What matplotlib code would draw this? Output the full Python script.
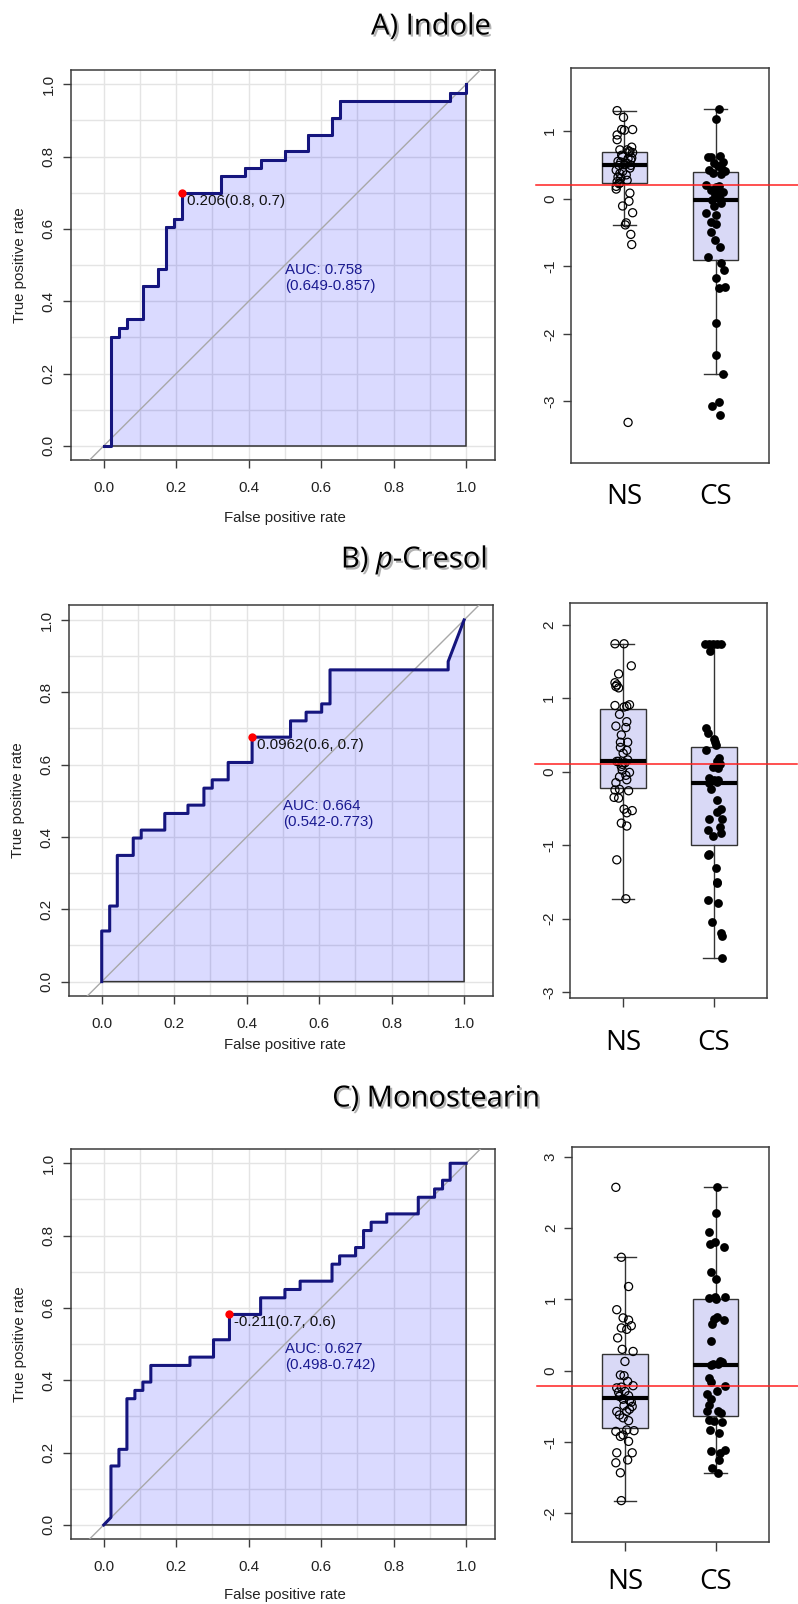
import numpy as np
import matplotlib
matplotlib.use('Agg')
import matplotlib.pyplot as plt
import matplotlib.patheffects as pe

plt.rcParams['font.family'] = ['Liberation Sans', 'DejaVu Sans']
plt.rcParams['mathtext.fontset'] = 'custom'
plt.rcParams['mathtext.rm'] = 'Open Sans'
plt.rcParams['mathtext.it'] = 'Open Sans:italic'

# ---- ROC curves (false positive rate, true positive rate vertices) ----
A_fpr = [0.000, 0.020, 0.020, 0.042, 0.042, 0.064, 0.064, 0.108, 0.108, 0.150, 0.150, 0.172,
         0.172, 0.194, 0.194, 0.216, 0.216, 0.325, 0.325, 0.391, 0.391, 0.433, 0.433, 0.500,
         0.500, 0.564, 0.564, 0.630, 0.630, 0.651, 0.651, 0.956, 0.956, 1.000, 1.000]
A_tpr = [0.000, 0.000, 0.302, 0.302, 0.326, 0.326, 0.350, 0.350, 0.441, 0.441, 0.488, 0.488,
         0.604, 0.604, 0.628, 0.628, 0.698, 0.698, 0.745, 0.745, 0.769, 0.769, 0.791, 0.791,
         0.815, 0.815, 0.860, 0.860, 0.906, 0.906, 0.953, 0.953, 0.977, 0.977, 1.000]

B_fpr = [0.000, 0.000, 0.022, 0.022, 0.043, 0.043, 0.087, 0.087, 0.109, 0.109, 0.174, 0.174,
         0.238, 0.238, 0.282, 0.282, 0.305, 0.305, 0.349, 0.349, 0.415, 0.415, 0.521, 0.521,
         0.564, 0.564, 0.607, 0.607, 0.630, 0.630, 0.956, 0.956, 1.000]
B_tpr = [0.000, 0.140, 0.140, 0.209, 0.209, 0.349, 0.349, 0.397, 0.397, 0.419, 0.419, 0.465,
         0.465, 0.488, 0.488, 0.535, 0.535, 0.558, 0.558, 0.606, 0.606, 0.676, 0.676, 0.721,
         0.721, 0.745, 0.745, 0.768, 0.768, 0.862, 0.862, 0.885, 1.000]

C_fpr = [0.000, 0.020, 0.020, 0.042, 0.042, 0.064, 0.064, 0.086, 0.086, 0.108, 0.108, 0.130,
         0.130, 0.238, 0.238, 0.303, 0.303, 0.347, 0.347, 0.433, 0.433, 0.500, 0.500, 0.542,
         0.542, 0.630, 0.630, 0.651, 0.651, 0.695, 0.695, 0.717, 0.717, 0.738, 0.738, 0.781,
         0.781, 0.868, 0.868, 0.913, 0.913, 0.935, 0.935, 0.956, 0.956, 1.000]
C_tpr = [0.000, 0.021, 0.163, 0.163, 0.209, 0.209, 0.349, 0.349, 0.372, 0.372, 0.395, 0.395,
         0.441, 0.441, 0.464, 0.464, 0.512, 0.512, 0.582, 0.582, 0.628, 0.628, 0.651, 0.651,
         0.674, 0.674, 0.721, 0.721, 0.744, 0.744, 0.767, 0.767, 0.814, 0.814, 0.837, 0.837,
         0.860, 0.860, 0.906, 0.906, 0.929, 0.929, 0.953, 0.953, 1.000, 1.000]

best_pts = [(0.216, 0.698), (0.415, 0.676), (0.347, 0.582)]
best_labels = ['0.206(0.8, 0.7)', '0.0962(0.6, 0.7)', '-0.211(0.7, 0.6)']
auc_labels = ['AUC: 0.758\n(0.649-0.857)', 'AUC: 0.664\n(0.542-0.773)', 'AUC: 0.627\n(0.498-0.742)']
titles = ['A) Indole', r'B) $\mathit{p}$-Cresol', 'C) Monostearin']

# ---- box plot values (NS open, CS filled) and horizontal jitter ----
A_ns = [1.30, 1.20, 1.02, 1.01, 1.02, 0.94, 0.87, 0.76, 0.72, 0.72, 0.70,
        0.69, 0.68, 0.62, 0.59, 0.57, 0.54, 0.52, 0.60, 0.55, 0.50, 0.64,
        0.49, 0.49, 0.42, 0.37, 0.32, 0.30, 0.27, 0.25, 0.40, 0.35, 0.23, 0.45,
        0.22, 0.18, 0.14, 0.08, -0.04, -0.11, -0.21, -0.36, -0.39, -0.53, -0.68, -3.31]
A_ns_dx = [-0.08, -0.01, -0.03, 0.00, 0.09, -0.08, -0.08, 0.08, -0.05, 0.03, 0.05,
           0.06, 0.09, -0.02, 0.04, 0.07, -0.04, 0.03, 0.08, -0.07, 0.00, -0.03,
           0.07, -0.06, -0.09, -0.05, -0.07, -0.04, 0.03, -0.08, -0.02, 0.02, -0.05, 0.06,
           -0.06, -0.09, -0.09, 0.06, 0.05, -0.02, 0.09, 0.02, 0.01, 0.07, 0.08, 0.04]
A_cs = [1.33, 1.17, 0.63, 0.62, 0.61, 0.54, 0.52, 0.44, 0.42, 0.40, 0.38, 0.37, 0.48,
        0.20, 0.17, 0.19, 0.12, 0.10, 0.07, 0.05, 0.00,
        -0.02, -0.07, -0.11, -0.22, -0.25, -0.35, -0.37, -0.49, -0.61, -0.72, -0.86,
        -0.95, -1.06, -1.18, -1.33, -1.31, -1.84, -2.31, -2.59, -3.07, -3.01, -3.20]
A_cs_dx = [0.04, 0.01, 0.05, -0.08, -0.05, 0.08, -0.02, 0.07, -0.07, 0.10, -0.03, 0.06, 0.03,
           -0.10, 0.01, 0.04, -0.05, 0.08, 0.03, -0.01, 0.05,
           -0.04, 0.06, -0.02, -0.10, 0.00, -0.05, 0.01, -0.05, -0.01, 0.05, -0.08,
           0.06, 0.09, 0.01, 0.04, 0.10, 0.01, 0.01, 0.08, -0.04, 0.04, 0.05]

B_ns = [1.74, 1.74, 1.44, 1.33, 1.21, 1.18, 1.14, 1.16,
        0.90, 0.91, 0.89, 0.88,
        0.78, 0.68, 0.62, 0.60,
        0.50, 0.40, 0.40, 0.33, 0.29, 0.25,
        0.16, 0.14, 0.14, 0.12, 0.10, 0.07,
        0.02, -0.01, -0.05, -0.07, -0.11, -0.15, -0.24, -0.25, -0.26,
        -0.35, -0.36, -0.51, -0.53, -0.56, -0.70, -0.74,
        -1.20, -1.73]
B_ns_dx = [-0.09, 0.01, 0.09, -0.05, -0.09, -0.07, -0.05, -0.08,
           -0.09, 0.07, 0.04, 0.01,
           -0.04, 0.04, -0.08, 0.03,
           -0.02, -0.03, 0.05, -0.03, 0.04, 0.00,
           0.05, -0.05, -0.07, 0.02, -0.01, -0.02,
           -0.01, 0.07, 0.03, -0.04, 0.04, -0.08, -0.04, -0.09, 0.06,
           -0.10, -0.05, 0.01, 0.10, 0.04, -0.02, 0.04,
           -0.07, 0.03]
B_cs = [1.74, 1.74, 1.74, 1.74, 1.74, 1.64,
        0.59, 0.52, 0.44, 0.40, 0.30,
        0.18, 0.14, 0.10, 0.07, 0.05,
        -0.09, -0.11, -0.12, -0.15, -0.14, -0.23,
        -0.38, -0.51, -0.55, -0.65, -0.64, -0.75, -0.80, -0.88, -0.84, 0.36,
        -1.13, -1.12, -1.31, -1.50, -1.52, -1.74, -1.79,
        -2.05, -2.20, -2.24, -2.53]
B_cs_dx = [-0.10, -0.05, -0.01, 0.03, 0.08, -0.04,
           -0.09, -0.07, 0.00, 0.01, -0.09,
           0.06, 0.04, 0.07, -0.01, 0.05,
           -0.05, 0.00, 0.05, -0.05, 0.03, -0.03,
           0.03, 0.08, 0.04, -0.05, 0.09, 0.07, -0.07, -0.01, 0.08, 0.02,
           -0.07, -0.05, 0.02, 0.03, 0.04, -0.07, 0.05,
           -0.02, 0.08, 0.09, 0.09]

C_ns = [2.57, 1.59, 1.18,
        0.855, 0.74, 0.71, 0.60, 0.58, 0.63, 0.46,
        0.30, 0.13, 0.27,
        -0.06, -0.07, -0.15,
        -0.24, -0.23, -0.21, -0.29, -0.36, -0.35, -0.44, -0.49, -0.57, -0.57, -0.54, -0.66, -0.70,
        -0.40, -0.42, -0.50, -0.30, -0.62,
        -0.85, -0.83, -0.84, -0.92, -0.90, -0.99,
        -1.15, -1.15, -1.29, -1.25, -1.43,
        -1.82]
C_ns_dx = [-0.10, -0.04, 0.04,
           -0.09, -0.02, 0.04, -0.04, 0.02, 0.07, -0.08,
           -0.03, 0.00, 0.09,
           -0.05, -0.01, 0.03,
           -0.09, -0.04, 0.09, 0.00, -0.06, 0.04, 0.07, -0.01, -0.09, 0.02, 0.05, -0.02, 0.04,
           -0.02, 0.05, 0.08, -0.07, -0.06,
           -0.10, 0.02, 0.10, -0.05, -0.02, 0.04,
           -0.09, 0.08, -0.10, 0.03, -0.05,
           -0.04]
C_cs = [2.57, 2.21, 1.94, 1.81, 1.78, 1.74,
        1.38, 1.29,
        1.04, 1.04, 1.02, 1.00, 0.72, 0.71, 0.75, 0.66,
        0.41,
        0.12, 0.08, 0.13, 0.09,
        0.10, -0.10, -0.16, -0.21, -0.28, -0.32, -0.40, -0.48, -0.56, -0.57, -0.59, -0.72, -0.69, -0.70,
        -0.83, -0.87,
        -1.13, -1.11, -1.15, -1.25, -1.36, -1.43]
C_cs_dx = [0.01, 0.00, -0.07, -0.01, -0.06, 0.09,
           -0.05, 0.00,
           -0.01, 0.10, -0.07, 0.00, -0.02, 0.09, 0.01, -0.04,
           -0.05,
           0.07, -0.05, 0.05, -0.03,
           0.02, -0.07, -0.05, 0.10, 0.01, -0.10, -0.05, -0.07, -0.10, 0.03, 0.06, 0.07, -0.07, -0.02,
           -0.06, 0.04,
           -0.05, 0.10, 0.05, 0.04, -0.04, 0.03]

cutoffs = [0.20, 0.10, -0.21]
group_labels = ['NS', 'CS']

W, H = 798, 1604
fig = plt.figure(figsize=(W / 100, H / 100), dpi=100)
fig.patch.set_facecolor('white')


def px_axes(left, top, w, h):
    return fig.add_axes([left / W, 1 - (top + h) / H, w / W, h / H])


navy = '#15157e'
frame = '#3c3c3c'


def draw_roc(ax, fpr, tpr, best, best_label, auc_label):
    ax.set_xlim(-0.09, 1.08)
    ax.set_ylim(-0.04, 1.04)
    ax.set_xticks(np.arange(0, 1.01, 0.2))
    ax.set_yticks(np.arange(0, 1.01, 0.2))
    ax.set_xticks(np.arange(0.1, 1.0, 0.2), minor=True)
    ax.set_yticks(np.arange(0.1, 1.0, 0.2), minor=True)
    ax.set_xticklabels(['0.0', '0.2', '0.4', '0.6', '0.8', '1.0'])
    ax.set_yticklabels(['0.0', '0.2', '0.4', '0.6', '0.8', '1.0'])
    ax.tick_params(which='minor', length=0)
    ax.tick_params(which='major', length=6, width=1, color=frame, labelsize=11,
                   labelcolor='#222222')
    ax.tick_params(axis='x', pad=9)
    ax.tick_params(axis='y', labelrotation=90, pad=5)
    for lab in ax.get_yticklabels():
        lab.set_va('center')
    ax.grid(which='both', color='#e4e4e4', lw=1)
    ax.set_axisbelow(True)
    for s in ax.spines.values():
        s.set_color(frame)
        s.set_linewidth(1.1)
    ax.fill(np.r_[fpr, 1, 0], np.r_[tpr, 0, 0], facecolor=(0.0, 0.0, 1.0, 0.145),
            edgecolor='#333333', lw=1.1, zorder=2)
    ax.plot([-0.2, 1.2], [-0.2, 1.2], color='#a8a8a8', lw=1, zorder=3)
    ax.plot(fpr, tpr, color=navy, lw=2.2, zorder=4)
    ax.scatter([best[0]], [best[1]], s=36, color='red', zorder=5, linewidths=0)
    ax.annotate(best_label, best, xytext=(3.4, -0.6), textcoords='offset points',
                ha='left', va='top', fontsize=10.8, color='#111111', zorder=6)
    ax.text(0.5, 0.505, auc_label, color='#1a1a90', ha='left', va='top',
            fontsize=10.8, linespacing=1.15, zorder=6)


def draw_box(ax, ns, ns_dx, cs, cs_dx, cut, ylim, yticks, xtick_len, xpad):
    ax.set_xlim(0.414, 2.586)
    ax.set_ylim(*ylim)
    ax.boxplot([ns, cs], positions=[1, 2], widths=0.5, showfliers=False, whis=1.5,
               patch_artist=True, capwidths=0.25,
               boxprops=dict(facecolor='#d9d9f6', edgecolor='#333333', lw=1),
               medianprops=dict(color='black', lw=3),
               whiskerprops=dict(color='#333333', lw=1),
               capprops=dict(color='#333333', lw=1), zorder=2)
    ax.scatter(1 + np.array(ns_dx), ns, s=34, facecolors='none', edgecolors='black',
               linewidths=0.9, zorder=4)
    ax.scatter(2 + np.array(cs_dx), cs, s=40, color='black', linewidths=0, zorder=4)
    ax.plot([-0.177, 1.15], [cut, cut], transform=ax.get_yaxis_transform(), color='#ff2020',
            lw=1.1, clip_on=False, zorder=5)
    ax.set_yticks(yticks)
    ax.set_yticklabels([str(t) for t in yticks])
    ax.tick_params(axis='y', length=6, width=1, color=frame, labelsize=11, pad=4,
                   labelrotation=90, labelcolor='#222222')
    for lab in ax.get_yticklabels():
        lab.set_va('center')
    ax.set_xticks([1, 2])
    ax.set_xticklabels(group_labels, fontfamily='Open Sans', fontsize=20)
    ax.tick_params(axis='x', length=xtick_len, width=1, color=frame, pad=xpad,
                   labelcolor='black')
    for s in ax.spines.values():
        s.set_color(frame)
        s.set_linewidth(1.1)


roc_pos = [(71.1, 69.8), (69.1, 605.5), (71.1, 1148.8)]
box_pos = [(571, 68, 198), (570, 603, 197), (571.7, 1147, 197.3)]
roc_data = [(A_fpr, A_tpr), (B_fpr, B_tpr), (C_fpr, C_tpr)]
box_data = [(A_ns, A_ns_dx, A_cs, A_cs_dx), (B_ns, B_ns_dx, B_cs, B_cs_dx),
            (C_ns, C_ns_dx, C_cs, C_cs_dx)]
box_ylims = [(-3.91, 1.93), (-3.08, 2.295), (-2.40, 3.135)]
box_yticks = [[-3, -2, -1, 0, 1], [-3, -2, -1, 0, 1, 2], [-2, -1, 0, 1, 2, 3]]
box_xtick = [(0, 14.5), (6.5, 16.0), (6.5, 12.5)]
title_xy = [(431, 27), (414, 560), (436, 1099)]
xlabel_y = [518, 1045, 1595]
ylabel_x = [20, 18, 20]

for i in range(3):
    l, t = roc_pos[i]
    ax = px_axes(l, t, 424, 390.6)
    draw_roc(ax, roc_data[i][0], roc_data[i][1], best_pts[i], best_labels[i], auc_labels[i])
    fig.text(285 / W, 1 - xlabel_y[i] / H, 'False positive rate', ha='center', va='center',
             fontsize=10.8, color='#222222')
    fig.text(ylabel_x[i] / W, 1 - (t + 195) / H, 'True positive rate', ha='center',
             va='center', rotation=90, fontsize=10.8, color='#222222')

    bl, bt, bw = box_pos[i]
    bx = px_axes(bl, bt, bw, 395)
    ns, ns_dx, cs, cs_dx = box_data[i]
    draw_box(bx, ns, ns_dx, cs, cs_dx, cutoffs[i], box_ylims[i], box_yticks[i],
             box_xtick[i][0], box_xtick[i][1])

    tx, ty = title_xy[i]
    fig.text(tx / W, 1 - ty / H, titles[i], ha='center', va='center', fontsize=21,
             fontfamily='Open Sans', color='black',
             path_effects=[pe.withSimplePatchShadow(offset=(1.5, -1.5), shadow_rgbFace='#555555',
                                                    alpha=0.45)])

fig.savefig('out.png', dpi=100, facecolor='white')
